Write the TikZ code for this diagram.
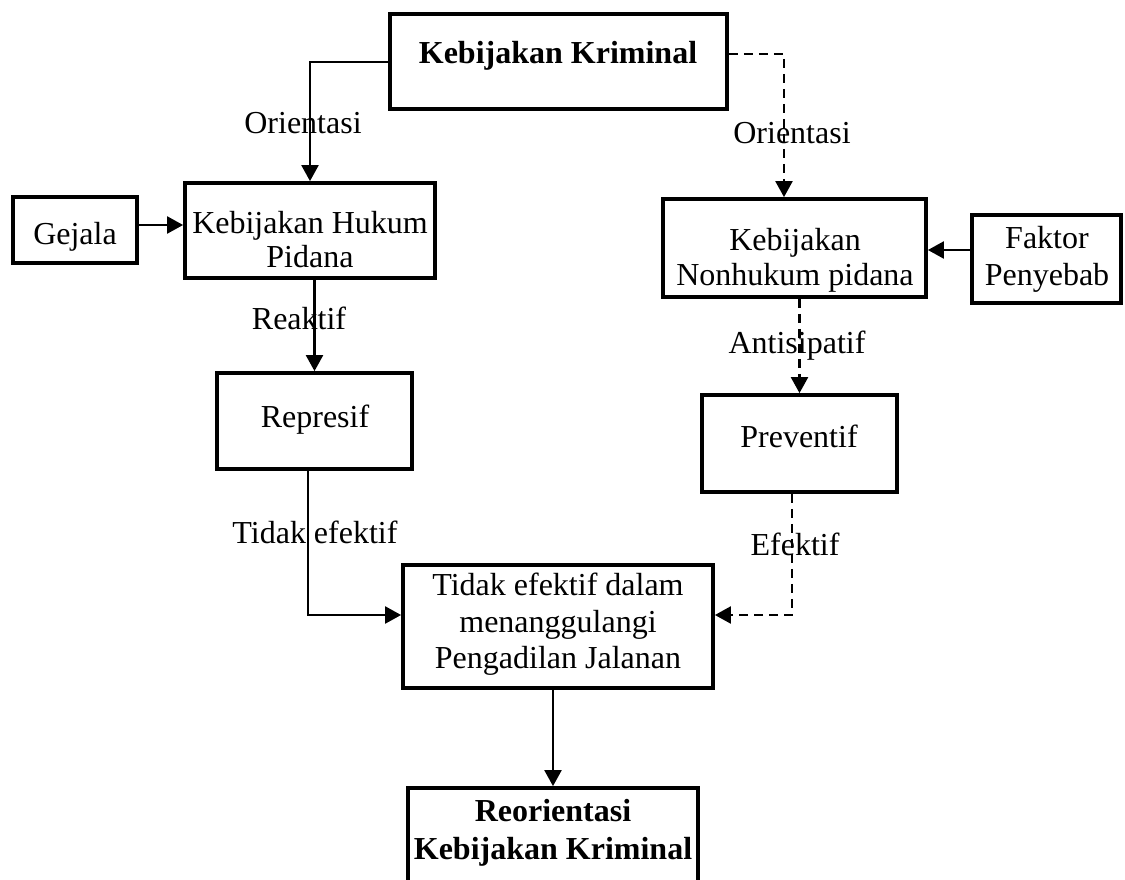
\documentclass[tikz,border=0pt]{standalone}
\usepackage{fontspec}
\setmainfont{Liberation Serif}
\usetikzlibrary{arrows.meta,calc}
\begin{document}
\begin{tikzpicture}[x=1pt,y=-1pt,
  box/.style={draw,line width=3.8pt,rectangle,inner sep=0pt},
  txt/.style={inner sep=0pt,align=center,font=\fontsize{32}{36}\selectfont},
  lbl/.style={inner sep=0pt,anchor=base,font=\fontsize{32}{36}\selectfont},
  arr/.style={line width=2.3pt,-{Triangle[length=16pt,width=17pt]}},
  darr/.style={arr,dash pattern=on 9pt off 6pt}]
\useasboundingbox (0,0) rectangle (1125,879);
\clip (0,0) rectangle (1125,879);
% boxes
\node[box,minimum width=337pt,minimum height=95pt] (kk) at (558.5,61.5) {};
\node[box,minimum width=124pt,minimum height=66pt] (gej) at (75,230) {};
\node[box,minimum width=250pt,minimum height=95pt] (khp) at (310,230.5) {};
\node[box,minimum width=263pt,minimum height=98pt] (nhp) at (794.5,248) {};
\node[box,minimum width=149pt,minimum height=88pt] (fak) at (1046.5,259) {};
\node[box,minimum width=195pt,minimum height=96pt] (rep) at (314.5,421) {};
\node[box,minimum width=195pt,minimum height=97pt] (pre) at (799.5,443.5) {};
\node[box,minimum width=310pt,minimum height=123pt] (tid) at (558,626.5) {};
\node[box,minimum width=290pt,minimum height=107pt] (reo) at (553,841.5) {};
% box texts
\node[txt,anchor=base,font=\fontsize{32}{36}\selectfont\bfseries] (kkt) at (558,63) {Kebijakan Kriminal};
\node[txt,anchor=base] (gejt) at (75,244) {Gejala};
\node[txt,anchor=north,font=\fontsize{32}{34}\selectfont] (khpt) at (310,211) {Kebijakan Hukum\\Pidana};
\node[txt,anchor=north,font=\fontsize{32}{35}\selectfont] (nhpt) at (795,228) {Kebijakan\\Nonhukum pidana};
\node[txt,anchor=north,font=\fontsize{32}{37}\selectfont] (fakt) at (1047,226) {Faktor\\Penyebab};
\node[txt,anchor=base] (rept) at (315,427) {Represif};
\node[txt,anchor=base] (pret) at (799,447) {Preventif};
\node[txt,anchor=north,font=\fontsize{32}{36.5}\selectfont] (tidt) at (558,573) {Tidak efektif dalam\\menanggulangi\\Pengadilan Jalanan};
\node[txt,anchor=north,font=\fontsize{32}{38}\selectfont\bfseries] (reot) at (553,799) {Reorientasi\\Kebijakan Kriminal};
% helper coordinates
\coordinate (c1) at (310,62);
\coordinate (c2) at (784,54);
\coordinate (yg) at (0,225);
\coordinate (yf) at (0,250);
\coordinate (c3) at (308,615);
\coordinate (c4) at (792,615);
% connectors
\draw[arr] (kk.west |- c1) -| (khp.north);
\draw[darr] (kk.east |- c2) -- (c2) -- (c2 |- nhp.north);
\draw[arr] (gej.east |- yg) -- (khp.west |- yg);
\draw[arr] (fak.west |- yf) -- (nhp.east |- yf);
\draw[arr] (khp.south -| rep.north) -- (rep.north);
\draw[darr] (nhp.south -| pre.north) -- (pre.north);
\draw[arr] (rep.south -| c3) -- (c3) -- (tid.west |- c3);
\draw[darr] (pre.south -| c4) -- (c4) -- (tid.east |- c4);
\draw[arr] (tid.south -| reo.north) -- (reo.north);
% labels
\node[lbl] (l1) at (303,133) {Orientasi};
\node[lbl] (l2) at (792,143) {Orientasi};
\node[lbl] (l3) at (299,329) {Reaktif};
\node[lbl] (l4) at (797,353) {Antisipatif};
\node[lbl] (l5) at (315,543) {Tidak efektif};
\node[lbl] (l6) at (795,555) {Efektif};
\end{tikzpicture}
\end{document}
